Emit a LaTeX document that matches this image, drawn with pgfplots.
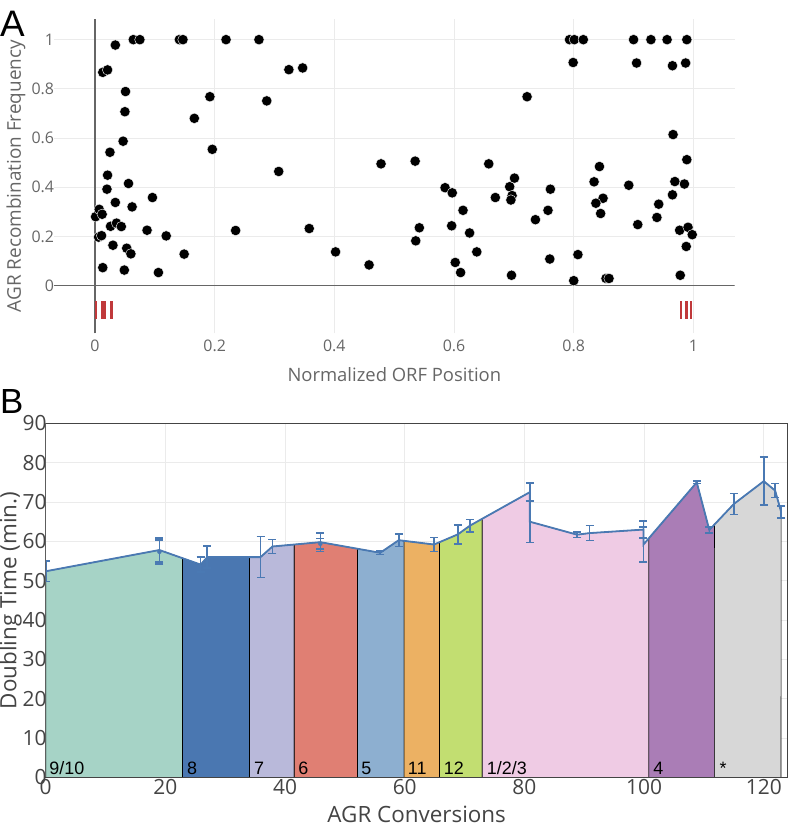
\documentclass[border=0pt]{standalone}
\usepackage{fontspec}
\setmainfont{Open Sans}
\newfontfamily\arialf{Liberation Sans}
\usepackage{pgfplots}
\usepackage{pgfplotstable}
\pgfplotsset{compat=1.18}
\usepgfplotslibrary{fillbetween}

\definecolor{txtA}{HTML}{666666}
\definecolor{txtB}{HTML}{444444}
\definecolor{gridc}{HTML}{EBEBEB}
\definecolor{zeroc}{HTML}{666666}
\definecolor{frameB}{HTML}{444444}
\definecolor{redtick}{HTML}{C0393B}
\definecolor{lineB}{HTML}{4A79B3}
\definecolor{cA}{HTML}{A6D3C6}
\definecolor{cB}{HTML}{4A77B1}
\definecolor{cC}{HTML}{B9B9DA}
\definecolor{cD}{HTML}{E07F73}
\definecolor{cE}{HTML}{8DAFD0}
\definecolor{cF}{HTML}{ECB163}
\definecolor{cG}{HTML}{C2DE71}
\definecolor{cH}{HTML}{EFCBE4}
\definecolor{cI}{HTML}{AA7DB6}
\definecolor{cJ}{HTML}{D7D7D7}

\pgfplotstableread{
x y
0.001 0.280
0.007 0.310
0.012 0.290
0.006 0.197
0.011 0.203
0.013 0.073
0.013 0.867
0.021 0.877
0.034 0.978
0.064 1.000
0.075 1.000
0.051 0.789
0.050 0.707
0.047 0.587
0.025 0.542
0.021 0.449
0.020 0.392
0.056 0.415
0.034 0.338
0.062 0.320
0.026 0.241
0.036 0.254
0.044 0.240
0.030 0.164
0.053 0.152
0.060 0.129
0.049 0.063
0.096 0.358
0.087 0.225
0.119 0.202
0.106 0.053
0.149 0.128
0.141 1.000
0.147 1.000
0.219 1.000
0.274 1.000
0.166 0.680
0.192 0.768
0.196 0.554
0.235 0.224
0.287 0.751
0.307 0.464
0.324 0.878
0.347 0.885
0.358 0.232
0.402 0.137
0.458 0.084
0.478 0.495
0.535 0.506
0.542 0.235
0.536 0.182
0.585 0.398
0.597 0.377
0.615 0.306
0.596 0.243
0.626 0.214
0.638 0.137
0.602 0.094
0.611 0.053
0.658 0.495
0.669 0.358
0.693 0.402
0.701 0.437
0.697 0.366
0.695 0.348
0.696 0.042
0.722 0.768
0.736 0.268
0.761 0.392
0.757 0.306
0.760 0.108
0.793 1.000
0.801 1.000
0.816 1.000
0.799 0.907
0.807 0.126
0.800 0.020
0.843 0.484
0.834 0.422
0.849 0.355
0.837 0.335
0.845 0.293
0.854 0.029
0.859 0.029
0.892 0.408
0.907 0.248
0.900 1.000
0.905 0.905
0.929 1.000
0.956 1.000
0.989 1.000
0.965 0.894
0.987 0.905
0.966 0.614
0.989 0.512
0.969 0.423
0.985 0.413
0.965 0.369
0.942 0.331
0.939 0.277
0.977 0.225
0.991 0.237
0.998 0.207
0.988 0.159
0.978 0.042
}\scatterA

\pgfplotstableread{
x y
0.002 -0.063
0.002 -0.136
0.002 nan
0.013 -0.063
0.013 -0.136
0.013 nan
0.017 -0.063
0.017 -0.136
0.017 nan
0.028 -0.063
0.028 -0.136
0.028 nan
0.979 -0.063
0.979 -0.136
0.979 nan
0.988 -0.063
0.988 -0.136
0.988 nan
0.996 -0.063
0.996 -0.136
}\redticks

\pgfplotstableread{
x y e
0 52.4 2.6
19.0 57.8 3.0
25.9 54.1 1.9
27.0 56.0 2.8
35.9 56.0 5.2
37.9 58.7 1.8
45.9 59.8 2.4
55.9 57.1 0.4
59.0 60.3 1.6
64.9 59.2 1.8
68.9 61.8 2.4
70.9 64.0 1.6
80.9 72.5 2.3
80.9 65.0 5.3
88.8 61.7 0.7
90.9 62.1 1.9
99.9 63.0 2.2
99.9 59.2 4.5
108.8 75.0 0.3
110.9 62.9 0.7
115.0 69.5 2.7
120.0 75.3 6.1
121.9 72.9 1.8
122.9 67.5 1.5
}\growth

\pgfplotstableread{
x y e
19.0 57.35 3.05
45.9 59.4 1.3
}\extraerr

\begin{document}
\begin{tikzpicture}

% ---------------- Panel A ----------------
\begin{axis}[
  at={(54bp,494.7bp)}, anchor=south west, scale only axis,
  width=680.7bp, height=314.3bp,
  xmin=-0.0685, xmax=1.069, ymin=-0.194, ymax=1.084,
  axis line style={draw=none},
  xtick={0,0.2,0.4,0.6,0.8,1},
  ytick={0,0.2,0.4,0.6,0.8,1},
  major tick length=0,
  grid=major, grid style={gridc, line width=0.8bp},
  tick label style={font=\fontsize{16}{16}\selectfont, text=txtA},
  /pgf/number format/assume math mode=true,
  yticklabel style={xshift=3.5bp},
  xticklabel style={yshift=-3bp},
  xlabel={Normalized ORF Position},
  xlabel style={at={(axis description cs:0.5,0)}, anchor=center, yshift=-41.7bp,
    font=\fontsize{18.5}{18.5}\selectfont, text=txtA},
  ylabel={AGR Recombination Frequency},
  ylabel style={at={(axis description cs:-0.0558,0.5)}, anchor=center,
    font=\fontsize{19}{19}\selectfont, text=txtA},
]
\draw[zeroc, line width=1.1bp] (axis cs:-0.0685,0) -- (axis cs:1.069,0);
\draw[zeroc, line width=1.1bp] (axis cs:0,-0.194) -- (axis cs:0,1.084);
\addplot[redtick, line width=2.6bp, mark=none, unbounded coords=jump] table[x=x,y=y] {\redticks};
\addplot[only marks, mark=*, mark size=5.2bp, mark options={fill=black, draw=white, line width=0.4bp}] table[x=x,y=y] {\scatterA};
\end{axis}

% ---------------- Panel B ----------------
\begin{axis}[
  at={(45.7bp,50.5bp)}, anchor=south west, scale only axis,
  width=742bp, height=354.2bp,
  xmin=0, xmax=124, ymin=0, ymax=90,
  xtick={0,20,40,60,80,100,120},
  ytick={0,10,20,30,40,50,60,70,80,90},
  major tick length=0,
  grid=major, grid style={gridc, line width=0.8bp},
  axis line style={draw=frameB, line width=1bp},
  tick label style={font=\fontsize{21}{21}\selectfont, text=txtB},
  /pgf/number format/assume math mode=true,
  xticklabel style={yshift=2bp},
  yticklabel style={xshift=4.3bp},
  xlabel={AGR Conversions},
  xlabel style={at={(axis description cs:0.5,0)}, anchor=center, yshift=-36.5bp,
    inner sep=0pt, font=\fontsize{22.5}{22.5}\selectfont, text=txtB},
  ylabel={Doubling Time (min.)},
  ylabel style={at={(axis description cs:-0.0475,0.5)}, anchor=center,
    inner sep=0pt, font=\fontsize{22.5}{22.5}\selectfont, text=txtB},
]
\addplot[draw=none, mark=none, forget plot, name path=top] table[x=x,y=y] {\growth};
\addplot[draw=none, mark=none, forget plot, name path=base] coordinates {(0,0) (124,0)};

\addplot[fill=cA, draw=black, line width=0.7bp] fill between[of=top and base, soft clip={domain=0:22.85}];
\addplot[fill=cB, draw=black, line width=0.7bp] fill between[of=top and base, soft clip={domain=22.85:34.05}];
\addplot[fill=cC, draw=black, line width=0.7bp] fill between[of=top and base, soft clip={domain=34.05:41.55}];
\addplot[fill=cD, draw=black, line width=0.7bp] fill between[of=top and base, soft clip={domain=41.55:52.1}];
\addplot[fill=cE, draw=black, line width=0.7bp] fill between[of=top and base, soft clip={domain=52.1:59.9}];
\addplot[fill=cF, draw=black, line width=0.7bp] fill between[of=top and base, soft clip={domain=59.9:65.8}];
\addplot[fill=cG, draw=black, line width=0.7bp] fill between[of=top and base, soft clip={domain=65.8:72.95}];
\addplot[fill=cH, draw=black, line width=0.7bp] fill between[of=top and base, soft clip={domain=72.95:100.8}];
\addplot[fill=cI, draw=black, line width=0.7bp] fill between[of=top and base, soft clip={domain=100.8:111.75}];
\addplot[fill=cJ, draw=black, line width=0.7bp] fill between[of=top and base, soft clip={domain=111.75:122.9}];

\addplot[lineB, line width=1.8bp, mark=none,
  error bars/.cd, y dir=both, y explicit,
  error bar style={line width=1.6bp, draw=lineB},
  error mark options={rotate=90, mark size=4bp, line width=1.6bp, draw=lineB}]
  table[x=x, y=y, y error=e] {\growth};
\addplot[lineB, only marks, mark=none,
  error bars/.cd, y dir=both, y explicit,
  error bar style={line width=1.6bp, draw=lineB},
  error mark options={rotate=90, mark size=4bp, line width=1.6bp, draw=lineB}]
  table[x=x, y=y, y error=e] {\extraerr};

\node[anchor=base west, inner sep=0pt, font=\arialf\fontsize{18}{18}\selectfont] at (axis cs:0.6,0.8) {9/10};
\node[anchor=base west, inner sep=0pt, font=\arialf\fontsize{18}{18}\selectfont] at (axis cs:23.6,0.8) {8};
\node[anchor=base west, inner sep=0pt, font=\arialf\fontsize{18}{18}\selectfont] at (axis cs:34.8,0.8) {7};
\node[anchor=base west, inner sep=0pt, font=\arialf\fontsize{18}{18}\selectfont] at (axis cs:42.2,0.8) {6};
\node[anchor=base west, inner sep=0pt, font=\arialf\fontsize{18}{18}\selectfont] at (axis cs:52.7,0.8) {5};
\node[anchor=base west, inner sep=0pt, font=\arialf\fontsize{18}{18}\selectfont] at (axis cs:60.5,0.8) {11};
\node[anchor=base west, inner sep=0pt, font=\arialf\fontsize{18}{18}\selectfont] at (axis cs:66.5,0.8) {12};
\node[anchor=base west, inner sep=0pt, font=\arialf\fontsize{18}{18}\selectfont] at (axis cs:73.7,0.8) {1/2/3};
\node[anchor=base west, inner sep=0pt, font=\arialf\fontsize{18}{18}\selectfont] at (axis cs:101.5,0.8) {4};
\node[anchor=base west, inner sep=0pt, font=\arialf\fontsize{18}{18}\selectfont] at (axis cs:112.6,0.8) {*};
\draw[frameB, line width=1bp] (rel axis cs:0,0) rectangle (rel axis cs:1,1);
\draw[black!45, line width=1bp] (rel axis cs:0,0) -- (rel axis cs:0,1);
\end{axis}

\node[anchor=base west, inner sep=0pt, font=\arialf\fontsize{37}{37}\selectfont] at (0bp,791bp) {A};
\node[anchor=base west, inner sep=0pt, font=\arialf\fontsize{35}{35}\selectfont] at (0bp,414.7bp) {B};

\pgfresetboundingbox
\path[use as bounding box] (0,0) rectangle (789bp,828bp);
\end{tikzpicture}
\end{document}
